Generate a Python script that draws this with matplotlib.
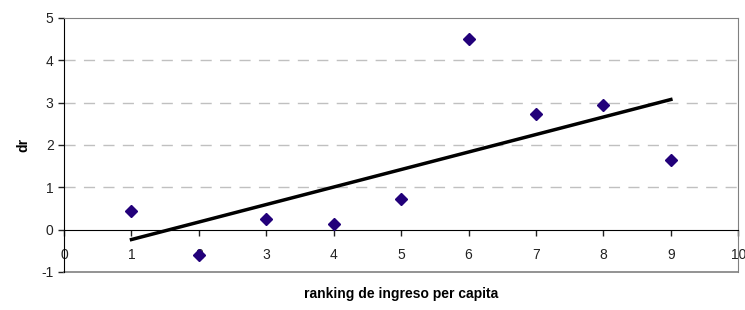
import numpy as np
from matplotlib import pyplot as plt

plt.rcParams['font.family'] = ['Liberation Sans', 'DejaVu Sans']
plt.rcParams['axes.unicode_minus'] = False

# ranking and dr values
ranking = [1, 2, 3, 4, 5, 6, 7, 8, 9]
dr = [0.43, -0.59, 0.24, 0.14, 0.73, 4.50, 2.72, 2.95, 1.65]
x_ticks = [0, 1, 2, 3, 4, 5, 6, 7, 8, 9, 10]
y_ticks = [-1, 0, 1, 2, 3, 4, 5]

fig = plt.figure(figsize=(7.45, 3.10), dpi=100)
ax = fig.add_axes([0.086, 0.123, 0.905, 0.819])

# linear trend line
slope, inter = np.polyfit(ranking, dr, 1)
xs = np.array([ranking[0], ranking[-1]])
ax.plot(xs, slope * xs + inter, color='black', lw=2.5, zorder=3)

ax.plot(ranking, dr, linestyle='none', marker='D', markersize=6,
        color='#22007a', zorder=4)

ax.set_xlim(0, 10)
ax.set_ylim(-1, 5)
ax.set_xticks(x_ticks)
ax.set_yticks(y_ticks)

for y in y_ticks[2:-1]:
    ax.axhline(y, color='#c0c0c0', lw=1, dashes=(8, 6), zorder=1)

# x axis crosses at y = 0
ax.spines['bottom'].set_position(('data', 0))
ax.spines['bottom'].set_color('black')
ax.spines['left'].set_color('black')
ax.spines['top'].set_color('#808080')
ax.spines['right'].set_color('#808080')
ax.plot([0, 10], [-1, -1], color='#808080', lw=1.2, clip_on=False, zorder=2)

ax.tick_params(axis='both', direction='out', length=4, width=1,
               labelsize=10, colors='#222222')
ax.tick_params(axis='x', pad=9)

ax.set_ylabel('dr', fontsize=10, fontweight='bold', labelpad=8)
fig.text(0.538, 0.04, 'ranking de ingreso per capita', ha='center',
         fontsize=10, fontweight='bold')

plt.savefig('out.png', dpi=100)
